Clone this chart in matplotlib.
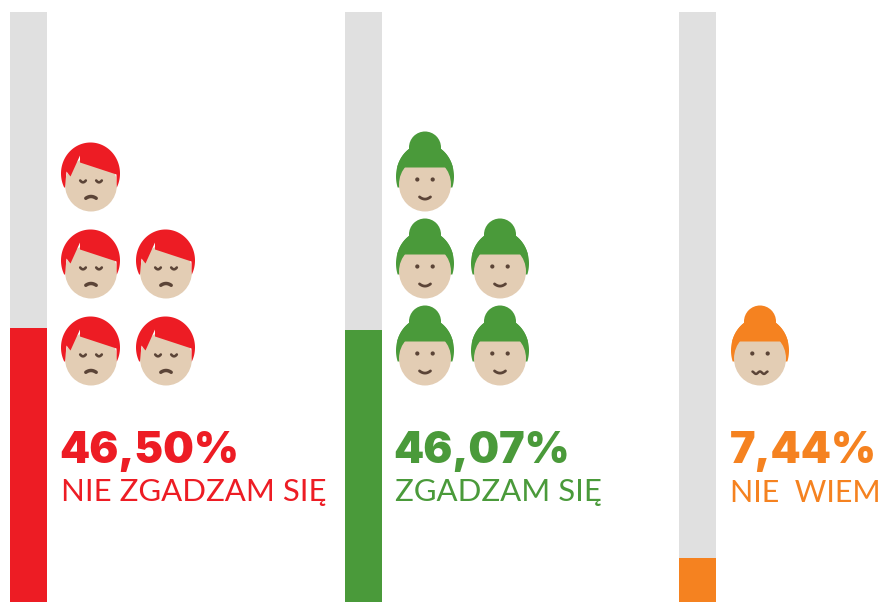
import numpy as np
import matplotlib
matplotlib.use("Agg")
import matplotlib.pyplot as plt
from matplotlib.patches import Ellipse, Polygon, Circle

# data
categories = ["NIE ZGADZAM SIĘ", "ZGADZAM SIĘ", "NIE  WIEM"]
values = [46.50, 46.07, 7.44]
value_labels = ["46,50%", "46,07%", "7,44%"]
icon_counts = [5, 5, 1]
icon_styles = ["short", "bun", "bun"]
moods = ["sad", "happy", "unsure"]
colors = ["#ED1C24", "#4A9A3A", "#F58220"]
TRACK = "#E0E0E0"
SKIN = "#E3CDB4"
INK = "#5B4437"

W, H = 883, 602
fig = plt.figure(figsize=(W / 100, H / 100), dpi=100, facecolor="white")

ov = fig.add_axes([0, 0, 1, 1], zorder=2)
ov.set_xlim(0, W)
ov.set_ylim(H, 0)
ov.axis("off")

bar_lefts = [10, 345, 679]
BAR_W, BAR_TOP = 37, 12


def ellipse_pts(cx, cy, rx, ry, ymax):
    """Outline of the ellipse above y = ymax, from lower left over the top to lower right."""
    a = np.arcsin(np.clip((ymax - cy) / ry, -1, 1))
    t = np.linspace(np.pi - a, 2 * np.pi + a, 120)
    return np.column_stack([cx + rx * np.cos(t), cy + ry * np.sin(t)])


def draw_mouth(cx, bottom, mood):
    if mood == "sad":
        xs = np.linspace(-5.2, 5.2, 40)
        ys = -15.0 + 1.8 * (xs / 5.2) ** 2
        ov.plot(cx + xs, bottom + ys, color=INK, lw=2.5, solid_capstyle="round", zorder=6)
    elif mood == "happy":
        xs = np.linspace(-5.5, 5.5, 40)
        ys = -14.6 + 2.2 * (1 - (xs / 5.5) ** 2)
        ov.plot(cx + xs, bottom + ys, color=INK, lw=2.0, solid_capstyle="round", zorder=6)
    else:
        xs = np.linspace(-7.5, 7.5, 60)
        ys = -12.8 - 1.2 * np.cos(2 * np.pi * xs / 8)
        ov.plot(cx + xs, bottom + ys, color=INK, lw=1.8, solid_capstyle="round", zorder=6)


def draw_face(cx, bottom, color, style, mood):
    if style == "short":
        pts = ellipse_pts(cx - 0.5, bottom - 38, 29.5, 31, bottom - 24)
        inner = [(cx + 25.5, bottom - 37), (cx - 11, bottom - 49), (cx - 11, bottom - 56),
                 (cx - 20.5, bottom - 35), (cx - 24.5, bottom - 40), (cx - 26, bottom - 24)]
        ov.add_patch(Ellipse((cx, bottom - 27), 52, 54, fc=SKIN, ec="none", zorder=3))
        ov.add_patch(Polygon(np.vstack([pts, inner]), closed=True, fc=color, ec="none", zorder=4))
        for dx in (-8, 8):
            t = np.linspace(-2.8, 2.8, 12)
            ov.plot(cx + dx + t, bottom - 31 + 1.8 * (1 - (t / 2.8) ** 2), color=INK,
                    lw=1.9, solid_capstyle="round", zorder=6)
    else:
        ov.add_patch(Circle((cx, bottom - 64), 16, fc=color, ec="none", zorder=2.5))
        pts = ellipse_pts(cx, bottom - 35, 29, 33, bottom - 24)
        ov.add_patch(Polygon(pts, closed=True, fc=color, ec="none", zorder=3))
        ov.add_patch(Ellipse((cx, bottom - 27), 52, 54, fc=SKIN, ec="none", zorder=3.2))
        cover = ellipse_pts(cx, bottom - 35, 29, 33, bottom - 44)
        ov.add_patch(Polygon(cover, closed=True, fc=color, ec="none", zorder=3.4))
        for dx in (-7.7, 7.7):
            ov.add_patch(Circle((cx + dx, bottom - 32), 2.1, fc=INK, ec="none", zorder=6))
    draw_mouth(cx, bottom, mood)


number_lefts = [59.5, 393.5, 729.5]
text_lefts = [61, 395, 730]
label_sizes = [22.4, 22.4, 22.0]
icon_centers = [91, 425, 760]
row_bottoms = [385.5, 298.5, 211.5]
COL_STEP = 75

for i, cat in enumerate(categories):
    ax = fig.add_axes([bar_lefts[i] / W, 0, BAR_W / W, (H - BAR_TOP) / H], zorder=1)
    ax.bar([0], [100], width=1, color=TRACK)
    ax.bar([0], [values[i]], width=1, color=colors[i])
    ax.set_xlim(-0.5, 0.5)
    ax.set_ylim(0, 100)
    ax.axis("off")

    n = icon_counts[i]
    placed = 0
    for r, b in enumerate(row_bottoms):
        for c in range(2):
            if placed < n and not (r == 2 and c == 1):
                draw_face(icon_centers[i] + c * COL_STEP, b, colors[i], icon_styles[i], moods[i])
                placed += 1

    ov.text(number_lefts[i], 463.5, value_labels[i], color=colors[i], family="Inter",
            weight=900, fontsize=31, ha="left", va="baseline", zorder=5)
    ov.text(text_lefts[i], 501.5, cat, color=colors[i], family="Lato",
            weight="regular", fontsize=label_sizes[i], ha="left", va="baseline", zorder=5)

fig.savefig("out.png", dpi=100, facecolor="white")
